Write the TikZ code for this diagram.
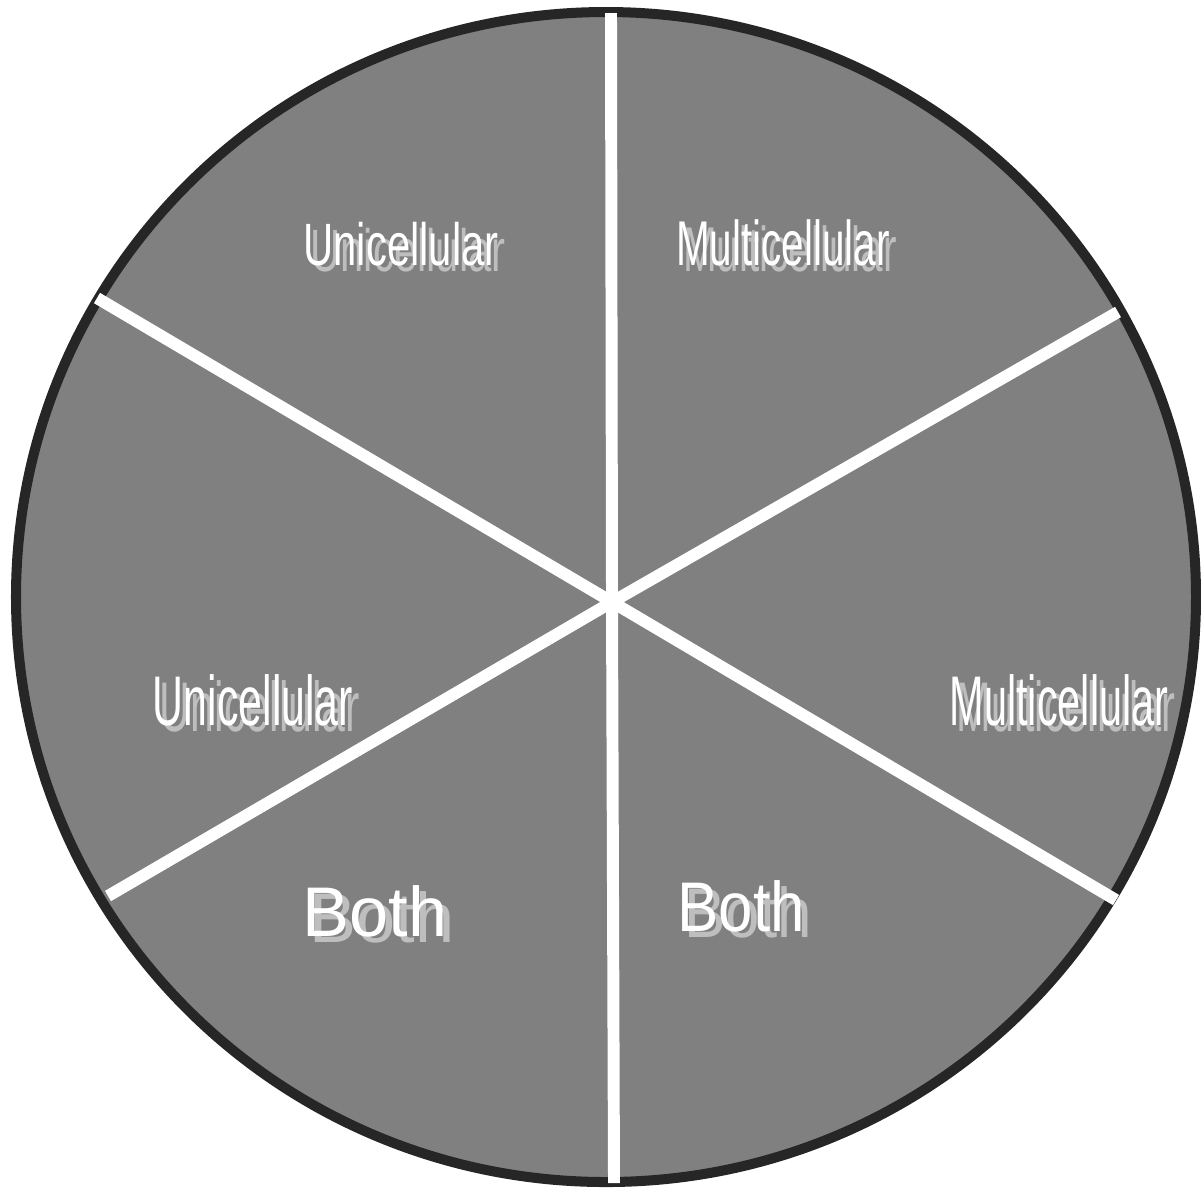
\documentclass[tikz,border=0pt]{standalone}
\usepackage{fontspec}
\setmainfont{Liberation Sans}
\usepackage{graphicx}
\usetikzlibrary{calc}
\definecolor{piegray}{HTML}{808080}
\definecolor{rimgray}{HTML}{262626}
\definecolor{shadegray}{HTML}{BEBEBE}
\tikzset{
  tagtext/.style={text=white, inner sep=0pt},
  tagshade/.style={text=shadegray, inner sep=0pt},
  spoke/.style={draw=white, line width=3.4pt}
}
% size, horizontal squeeze, text
\newcommand{\tagfont}[3]{\fontsize{#1}{#1}\selectfont\scalebox{#2}[1]{#3}}

\begin{document}
\begin{tikzpicture}
  \useasboundingbox (0,0) rectangle (12.01,-11.88);
  % disc
  \draw[line width=2.85pt, draw=rimgray, fill=piegray]
    (6.06,-5.97) ellipse [x radius=5.90, y radius=5.85];

  % spokes
  \coordinate (hub) at (6.12,-6.02);
  \coordinate (top) at (6.11,-0.13);
  \coordinate (bottom) at (6.14,-11.83);
  \coordinate (upleft) at (0.97,-2.98);
  \coordinate (upright) at (11.18,-3.12);
  \coordinate (lowleft) at (1.08,-8.96);
  \coordinate (lowright) at (11.16,-9.00);
  \foreach \e in {top,bottom,upleft,upright,lowleft,lowright}
    \draw[spoke] (hub) -- (\e);

  % labels, shadow first
  \node[tagshade] (uniAs) at (4.08,-2.50) {\tagfont{17pt}{0.70}{Unicellular}};
  \node[tagtext]  (uniA)  at (4.01,-2.44) {\tagfont{17pt}{0.70}{Unicellular}};
  \node[tagshade] (multiAs) at (7.90,-2.49) {\tagfont{18pt}{0.64}{Multicellular}};
  \node[tagtext]  (multiA)  at (7.83,-2.43) {\tagfont{18pt}{0.64}{Multicellular}};
  \node[tagshade] (uniBs) at (2.60,-7.06) {\tagfont{20pt}{0.61}{Unicellular}};
  \node[tagtext]  (uniB)  at (2.53,-7.00) {\tagfont{20pt}{0.61}{Unicellular}};
  \node[tagshade] (multiBs) at (10.66,-7.06) {\tagfont{20pt}{0.59}{Multicellular}};
  \node[tagtext]  (multiB)  at (10.59,-7.00) {\tagfont{20pt}{0.59}{Multicellular}};
  \node[tagshade] (bothAs) at (3.82,-9.17) {\tagfont{20pt}{1.0}{Both}};
  \node[tagtext]  (bothA)  at (3.75,-9.11) {\tagfont{20pt}{1.0}{Both}};
  \node[tagshade] (bothBs) at (7.48,-9.12) {\tagfont{20pt}{0.88}{Both}};
  \node[tagtext]  (bothB)  at (7.41,-9.06) {\tagfont{20pt}{0.88}{Both}};
\end{tikzpicture}
\end{document}
